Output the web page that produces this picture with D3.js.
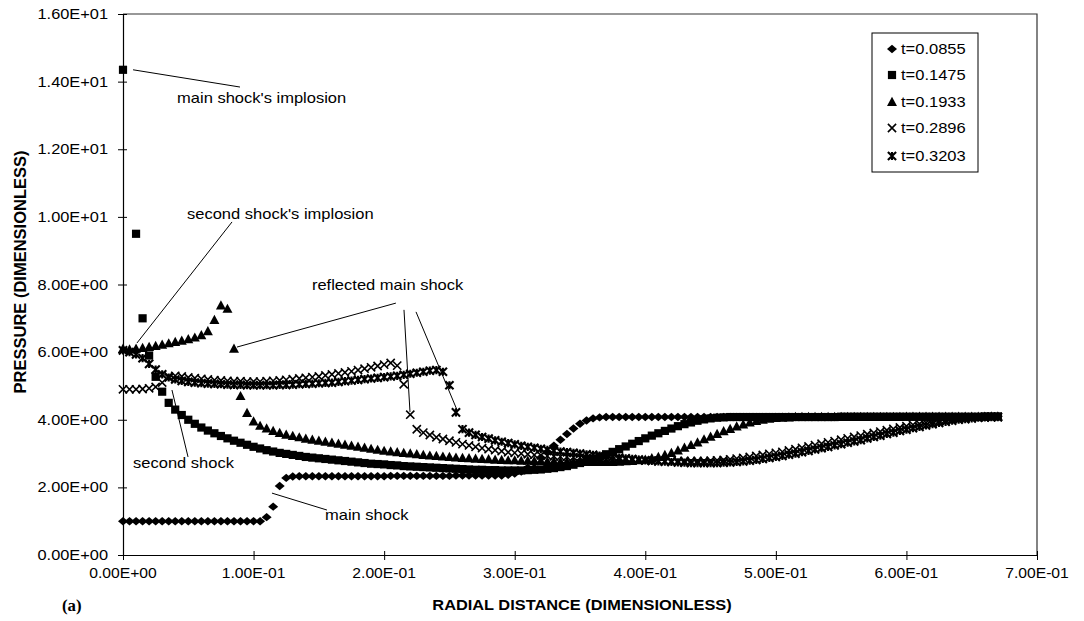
<!DOCTYPE html>
<html><head><meta charset="utf-8">
<script src="https://cdn.jsdelivr.net/npm/d3@7"></script>
<style>body{margin:0;background:#fff}svg{display:block}</style>
</head><body><svg id="c" width="1084" height="621"></svg>
<script>
// ---------------- data ----------------
const radius = [0,.005,.01,.015,.02,.025,.03,.035,.04,.045,.05,.055,.06,.065,.07,.075,.08,.085,.09,.095,
.1,.105,.11,.115,.12,.125,.13,.135,.14,.145,.15,.155,.16,.165,.17,.175,.18,.185,.19,.195,
.2,.205,.21,.215,.22,.225,.23,.235,.24,.245,.25,.255,.26,.265,.27,.275,.28,.285,.29,.295,
.3,.305,.31,.315,.32,.325,.33,.335,.34,.345,.35,.355,.36,.365,.37,.375,.38,.385,.39,.395,
.4,.405,.41,.415,.42,.425,.43,.435,.44,.445,.45,.455,.46,.465,.47,.475,.48,.485,.49,.495,
.5,.505,.51,.515,.52,.525,.53,.535,.54,.545,.55,.555,.56,.565,.57,.575,.58,.585,.59,.595,
.6,.605,.61,.615,.62,.625,.63,.635,.64,.645,.65,.655,.66,.665,.67];

const seriesNames = ["t=0.0855","t=0.1475","t=0.1933","t=0.2896","t=0.3203"];

const p0855 = [1,1,1,1,1,1,1,1,1,1,
1,1,1,1,1,1,1,1,1,1,
1,1,1.12,1.43,2.04,2.28,2.32,2.33,2.33,2.33,
2.33,2.33,2.33,2.33,2.33,2.33,2.33,2.33,2.33,2.33,
2.33,2.34,2.34,2.34,2.34,2.34,2.34,2.34,2.34,2.34,
2.34,2.35,2.35,2.35,2.35,2.35,2.35,2.35,2.35,2.37,
2.41,2.47,2.58,2.72,2.88,3.05,3.23,3.41,3.58,3.74,
3.88,3.98,4.04,4.07,4.08,4.08,4.08,4.08,4.08,4.08,
4.08,4.08,4.08,4.08,4.08,4.08,4.08,4.08,4.08,4.08,
4.08,4.08,4.08,4.08,4.08,4.08,4.08,4.08,4.08,4.08,
4.08,4.08,4.08,4.08,4.08,4.08,4.08,4.08,4.08,4.08,
4.09,4.09,4.09,4.09,4.09,4.09,4.09,4.09,4.09,4.09,
4.09,4.09,4.09,4.09,4.09,4.09,4.09,4.09,4.09,4.09,
4.09,4.09,4.1,4.1,4.1];

const p1475 = [14.35,null,9.5,7.0,5.9,5.27,4.83,4.5,4.3,4.14,
4.0,3.88,3.77,3.68,3.6,3.52,3.45,3.38,3.32,3.26,
3.2,3.15,3.1,3.06,3.02,2.99,2.96,2.93,2.9,2.88,
2.86,2.84,2.82,2.8,2.78,2.76,2.74,2.72,2.7,2.69,
2.68,2.66,2.65,2.63,2.62,2.61,2.6,2.59,2.58,2.57,
2.56,2.55,2.54,2.53,2.52,2.52,2.51,2.51,2.5,2.5,
2.5,2.5,2.51,2.52,2.53,2.55,2.57,2.6,2.63,2.67,
2.72,2.78,2.84,2.91,2.98,3.05,3.13,3.21,3.29,3.37,
3.45,3.53,3.6,3.67,3.74,3.81,3.87,3.92,3.97,4.01,
4.04,4.06,4.07,4.08,4.08,4.08,4.08,4.08,4.08,4.08,
4.08,4.08,4.08,4.08,4.08,4.08,4.08,4.08,4.08,4.08,
4.09,4.09,4.09,4.09,4.09,4.09,4.09,4.09,4.09,4.09,
4.09,4.09,4.09,4.09,4.09,4.09,4.09,4.09,4.09,4.09,
4.09,4.09,4.1,4.1,4.1];

const p1933 = [6.1,6.08,6.1,6.12,6.15,6.18,6.22,6.26,6.3,6.34,
6.38,6.43,6.5,6.62,6.95,7.38,7.28,6.1,4.7,4.2,
3.95,3.82,3.74,3.67,3.61,3.56,3.52,3.48,3.44,3.41,
3.38,3.35,3.32,3.29,3.26,3.23,3.2,3.17,3.14,3.11,
3.08,3.06,3.04,3.02,3.0,2.98,2.96,2.94,2.93,2.91,
2.9,2.88,2.87,2.86,2.85,2.84,2.83,2.82,2.81,2.8,
2.8,2.79,2.79,2.78,2.78,2.77,2.77,2.76,2.76,2.75,
2.75,2.75,2.75,2.75,2.75,2.75,2.76,2.77,2.78,2.8,
2.82,2.86,2.9,2.96,3.02,3.09,3.17,3.25,3.33,3.42,
3.5,3.58,3.66,3.73,3.8,3.86,3.92,3.96,4.0,4.03,
4.05,4.06,4.07,4.08,4.08,4.08,4.08,4.08,4.08,4.08,
4.08,4.08,4.08,4.08,4.08,4.08,4.08,4.08,4.08,4.08,
4.09,4.09,4.09,4.09,4.09,4.09,4.09,4.09,4.09,4.09,
4.09,4.09,4.09,4.1,4.1];

const p2896 = [4.9,4.9,4.9,4.91,4.93,4.97,5.1,5.28,5.3,5.28,
5.25,5.23,5.21,5.19,5.17,5.16,5.15,5.14,5.14,5.13,
5.13,5.13,5.14,5.15,5.16,5.18,5.2,5.22,5.24,5.26,
5.28,5.31,5.34,5.37,5.4,5.43,5.47,5.51,5.55,5.59,
5.63,5.68,5.6,5.05,4.15,3.72,3.62,3.55,3.48,3.43,
3.38,3.33,3.28,3.24,3.2,3.16,3.13,3.1,3.07,3.04,
3.02,3.0,2.98,2.96,2.95,2.93,2.92,2.91,2.9,2.89,
2.88,2.87,2.86,2.85,2.84,2.83,2.82,2.82,2.81,2.8,
2.8,2.79,2.79,2.78,2.78,2.78,2.78,2.78,2.78,2.78,
2.79,2.8,2.81,2.83,2.85,2.87,2.9,2.93,2.96,2.99,
3.02,3.05,3.09,3.13,3.17,3.21,3.25,3.29,3.33,3.37,
3.41,3.45,3.49,3.53,3.57,3.61,3.65,3.69,3.73,3.77,
3.81,3.85,3.88,3.91,3.94,3.97,4.0,4.02,4.04,4.05,
4.06,4.07,4.08,4.08,4.08];

const p3203 = [6.05,6.0,5.93,5.82,5.65,5.48,5.34,5.25,5.19,5.15,
5.12,5.1,5.08,5.07,5.06,5.05,5.04,5.03,5.03,5.02,
5.02,5.02,5.02,5.02,5.03,5.03,5.04,5.05,5.06,5.07,
5.08,5.09,5.1,5.12,5.14,5.16,5.18,5.2,5.22,5.24,
5.26,5.28,5.3,5.33,5.36,5.39,5.42,5.45,5.47,5.42,
5.02,4.22,3.72,3.62,3.55,3.49,3.44,3.39,3.35,3.31,
3.27,3.23,3.2,3.17,3.14,3.11,3.08,3.06,3.04,3.02,
3.0,2.98,2.96,2.94,2.92,2.9,2.88,2.86,2.84,2.82,
2.8,2.78,2.77,2.76,2.75,2.74,2.73,2.72,2.72,2.72,
2.72,2.72,2.73,2.74,2.75,2.77,2.79,2.81,2.84,2.87,
2.9,2.93,2.97,3.0,3.04,3.08,3.12,3.16,3.2,3.24,
3.28,3.32,3.36,3.4,3.45,3.49,3.53,3.58,3.62,3.67,
3.71,3.75,3.79,3.83,3.87,3.91,3.94,3.97,4.0,4.02,
4.04,4.06,4.07,4.08,4.08];

const yTicks = [0,2,4,6,8,10,12,14,16];
const yTickLabels = ["0.00E+00","2.00E+00","4.00E+00","6.00E+00","8.00E+00","1.00E+01","1.20E+01","1.40E+01","1.60E+01"];
const xTicks = [0,0.1,0.2,0.3,0.4,0.5,0.6,0.7];
const xTickLabels = ["0.00E+00","1.00E-01","2.00E-01","3.00E-01","4.00E-01","5.00E-01","6.00E-01","7.00E-01"];

const yTitle = "PRESSURE (DIMENSIONLESS)";
const xTitle = "RADIAL DISTANCE (DIMENSIONLESS)";
const panelLabel = "(a)";

// annotation texts and leader lines, in data units
const noteTexts = ["main shock's implosion","second shock's implosion","reflected main shock","second shock","main shock"];
const noteAnchors = [[0.0414,13.37],[0.049,9.94],[0.1447,7.84],[0.0077,2.57],[0.1547,1.04]];
const noteLines = [
  [0.0077,14.35,0.0896,13.84],
  [0.0835,9.85,0.0107,6.27],
  [0.209,7.45,0.0873,6.15],
  [0.2152,7.25,0.2198,4.23],
  [0.2244,7.19,0.2558,4.29],
  [0.0498,2.9,0.0375,4.88],
  [0.1141,1.83,0.1562,1.33]
];

// ---------------- drawing ----------------
const svg = d3.select("#c");
const plot = {left:123, right:1037, top:14, bottom:555};
const x = d3.scaleLinear().domain([0,0.7]).range([plot.left, plot.right]);
const y = d3.scaleLinear().domain([0,16]).range([plot.bottom, plot.top]);
const FONT = "'Liberation Sans', Arial, Helvetica, sans-serif";

function stext(g, px, py, str, o) {
  const sx = o.sx || 1;
  return g.append("text")
    .attr("transform", `translate(${px},${py}) scale(${sx},1)`)
    .attr("font-family", o.family || FONT)
    .attr("font-size", o.size)
    .attr("font-weight", o.weight || "normal")
    .attr("text-anchor", o.anchor || "start")
    .attr("dominant-baseline", o.baseline || "auto")
    .attr("fill", "#000")
    .text(str);
}

// plot frame (top & right)
svg.append("path")
  .attr("d", `M${plot.left},${plot.top}H${plot.right}V${plot.bottom}`)
  .attr("fill","none").attr("stroke","#333").attr("stroke-width",1.2);

// y axis
const gy = svg.append("g").attr("transform",`translate(${plot.left},0)`)
  .call(d3.axisLeft(y).tickValues(yTicks).tickFormat("").tickSizeInner(5).tickSizeOuter(0));
gy.select(".domain").attr("stroke","#000").attr("stroke-width",1.2);
gy.selectAll(".tick line").attr("x1",4).attr("x2",-5).attr("stroke","#000");
yTicks.forEach((v,i)=> stext(svg, plot.left-15, y(v), yTickLabels[i], {size:14, anchor:"end", baseline:"central", sx:1.17}));

// x axis
const gx = svg.append("g").attr("transform",`translate(0,${plot.bottom})`)
  .call(d3.axisBottom(x).tickValues(xTicks).tickFormat("").tickSizeInner(5).tickSizeOuter(0));
gx.select(".domain").attr("stroke","#000").attr("stroke-width",1.2);
gx.selectAll(".tick line").attr("y1",-4).attr("y2",5).attr("stroke","#000");
xTicks.forEach((v,i)=> stext(svg, x(v), plot.bottom+18, xTickLabels[i], {size:14, anchor:"middle", baseline:"central", sx:1.12}));

// titles
stext(svg, 582, 605, xTitle, {size:14, weight:"bold", anchor:"middle", baseline:"central", sx:1.17});
svg.append("text")
  .attr("transform",`translate(20,272) rotate(-90)`)
  .attr("font-family",FONT).attr("font-size",16.5).attr("font-weight","bold")
  .attr("text-anchor","middle").attr("dominant-baseline","central").text(yTitle);
stext(svg, 62, 606, panelLabel, {size:16, weight:"bold", family:"'Liberation Serif','Times New Roman',serif", baseline:"central", sx:1.05});

// markers
const shapes = {
  diamond: "M0,-4.2L5,0L0,4.2L-5,0Z",
  square: "M-4.1,-4.1H4.1V4.1H-4.1Z",
  triangle: "M0,-5.2L5,4H-5Z",
  cross: "M-4.1,-4.1L4.1,4.1M4.1,-4.1L-4.1,4.1",
  star: "M-4.1,-4.1L4.1,4.1M4.1,-4.1L-4.1,4.1M0,-4.1V4.1"
};
const series = [
  {name:seriesNames[0], vals:p0855, shape:"diamond", fill:true},
  {name:seriesNames[1], vals:p1475, shape:"square", fill:true},
  {name:seriesNames[2], vals:p1933, shape:"triangle", fill:true},
  {name:seriesNames[3], vals:p2896, shape:"cross", fill:false, sw:1.6},
  {name:seriesNames[4], vals:p3203, shape:"star", fill:false, sw:2.1}
];
function styleMark(sel, s) {
  if (s.fill) sel.attr("fill","#000").attr("stroke","none");
  else sel.attr("fill","none").attr("stroke","#000").attr("stroke-width",s.sw);
}
const gm = svg.append("g");
series.forEach(s => {
  const pts = radius.map((r,i)=>({r, v:s.vals[i]})).filter(d=>d.v!=null);
  const sel = gm.append("g").selectAll("path").data(pts).join("path")
    .attr("d", shapes[s.shape])
    .attr("transform", d=>`translate(${x(d.r)},${y(d.v)})`);
  styleMark(sel, s);
});

// annotations
const ga = svg.append("g");
noteLines.forEach(l => ga.append("line")
  .attr("x1",x(l[0])).attr("y1",y(l[1])).attr("x2",x(l[2])).attr("y2",y(l[3]))
  .attr("stroke","#000").attr("stroke-width",1));
noteTexts.forEach((t,i)=> stext(ga, x(noteAnchors[i][0]), y(noteAnchors[i][1]), t, {size:14, sx:1.18}));

// legend
const lg = svg.append("g");
lg.append("rect").attr("x",872).attr("y",33).attr("width",106).attr("height",139)
  .attr("fill","#fff").attr("stroke","#000").attr("stroke-width",1);
const rowY = [49,75,102,128,156];
series.forEach((s,i)=>{
  const m = lg.append("path").attr("d",shapes[s.shape]).attr("transform",`translate(892,${rowY[i]})`);
  styleMark(m, s);
  stext(lg, 901, rowY[i], s.name, {size:14, baseline:"central", sx:1.18});
});
</script>
</body></html>
